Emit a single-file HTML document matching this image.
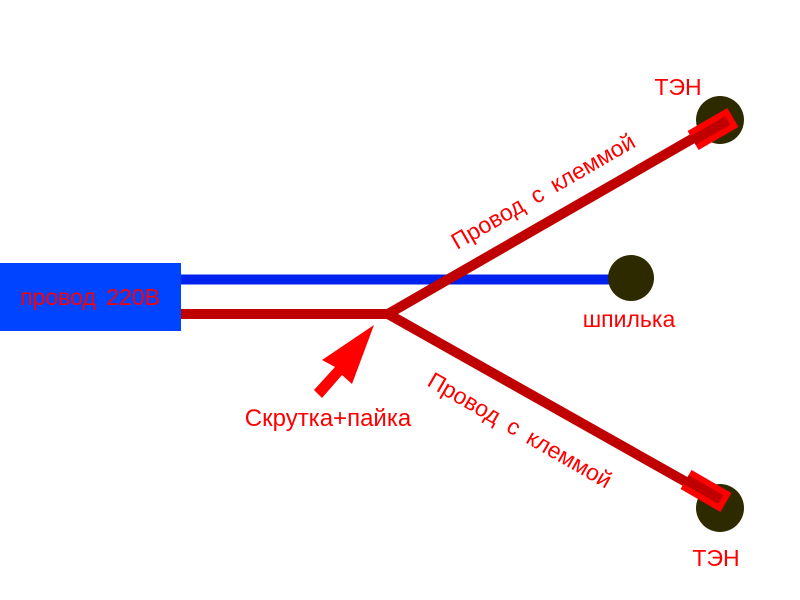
<!DOCTYPE html>
<html><head><meta charset="utf-8"><style>body{margin:0;background:#fff}svg{display:block}</style></head><body>
<svg width="800" height="600" viewBox="0 0 800 600" xmlns="http://www.w3.org/2000/svg" font-family="Liberation Sans, sans-serif">
<rect x="0" y="263" width="181" height="68" fill="#0044ff"/>
<text x="90" y="305" font-size="23" fill="#ff0000" text-anchor="middle" word-spacing="4">провод 220В</text>
<line x1="181" y1="279.5" x2="630" y2="279.5" stroke="#0022ee" stroke-width="10"/>
<circle cx="720" cy="120" r="24" fill="#2e2a00"/>
<circle cx="631" cy="278" r="23" fill="#2e2a00"/>
<circle cx="720" cy="508" r="24" fill="#2e2a00"/>
<polyline points="181,314 388,314 718,124" fill="none" stroke="#c00000" stroke-width="10"/>
<line x1="388" y1="314" x2="718" y2="500" stroke="#c00000" stroke-width="10"/>
<g transform="translate(713,129) rotate(-30)">
<rect x="-23" y="-11" width="46" height="22" fill="#ff0000"/>
<rect x="-23" y="-5" width="40" height="10" fill="#c00000"/>
</g>
<g transform="translate(706,491) rotate(30)">
<rect x="-23" y="-11" width="46" height="22" fill="#ff0000"/>
<rect x="-23" y="-5" width="40" height="10" fill="#c00000"/>
</g>
<polygon points="374,325 352,384 342,375 322,398 314,390 335,367 322,360" fill="#ff0000"/>
<text x="678" y="95" font-size="23" fill="#ff0000" text-anchor="middle">ТЭН</text>
<text x="716" y="566" font-size="23" fill="#ff0000" text-anchor="middle">ТЭН</text>
<text x="629" y="327" font-size="23" fill="#ff0000" text-anchor="middle">шпилька</text>
<text x="328" y="426" font-size="24" fill="#ff0000" text-anchor="middle">Скрутка+пайка</text>
<text transform="translate(547,198) rotate(-30)" font-size="23" fill="#ff0000" text-anchor="middle" word-spacing="5">Провод с клеммой</text>
<text transform="translate(516,437) rotate(30)" font-size="23" fill="#ff0000" text-anchor="middle" word-spacing="5">Провод с клеммой</text>
</svg>
</body></html>
